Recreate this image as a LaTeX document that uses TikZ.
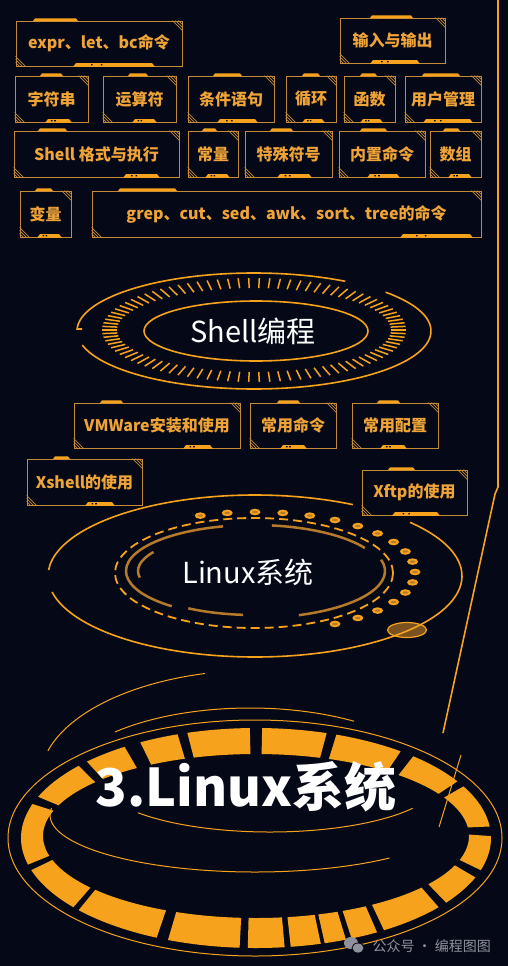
\documentclass[tikz,border=0pt]{standalone}
\usepackage{fontspec}
\setmainfont{Noto Sans CJK SC}
\usetikzlibrary{calc}
\definecolor{night}{HTML}{050917}
\definecolor{amber}{HTML}{F7A21D}
\definecolor{amberline}{HTML}{C48A35}
\definecolor{ambertext}{HTML}{F0A437}
\definecolor{amberdim}{HTML}{B57A2A}
\definecolor{amberfill}{HTML}{7A5220}
\definecolor{markgray}{HTML}{8F929C}
\tikzset{
  tag/.style={draw=amberline,line width=.9pt,inner sep=0pt,text=ambertext,font=\bfseries\fontsize{16}{16}\selectfont},
  ring/.style={draw=amber,line width=1.6pt},
  hair/.style={draw=amber,line width=1pt},
}

\begin{document}
\begin{tikzpicture}[x=1pt,y=-1pt]
\fill[night] (0,0) rectangle (508,966);
\useasboundingbox (0,0) rectangle (508,966);

% frame line on the right
\draw[ring] (498,0) -- (498,487) -- (495,494) -- (443,733);

% topic tags
\node[tag,minimum width=166pt,minimum height=45pt] (expr) at (99,43.5) {expr、let、bc命令};
\node[tag,minimum width=105pt,minimum height=45pt] (io) at (392.5,40.5) {输入与输出};
\node[tag,minimum width=73pt,minimum height=46pt] (str) at (51.5,99) {字符串};
\node[tag,minimum width=73pt,minimum height=46pt] (oper) at (139.5,99) {运算符};
\node[tag,minimum width=86pt,minimum height=46pt] (cond) at (231,99) {条件语句};
\node[tag,minimum width=50pt,minimum height=46pt] (loop) at (311,99) {循环};
\node[tag,minimum width=51pt,minimum height=46pt] (func) at (369.5,99) {函数};
\node[tag,minimum width=76pt,minimum height=46pt] (user) at (443,99) {用户管理};
\node[tag,minimum width=165pt,minimum height=46pt] (fmt) at (96.5,154) {Shell 格式与执行};
\node[tag,minimum width=50pt,minimum height=46pt] (const) at (213,154) {常量};
\node[tag,minimum width=87pt,minimum height=46pt] (spec) at (288.5,154) {特殊符号};
\node[tag,minimum width=86pt,minimum height=46pt] (builtin) at (382,154) {内置命令};
\node[tag,minimum width=51pt,minimum height=46pt] (array) at (455.5,154) {数组};
\node[tag,minimum width=51pt,minimum height=46pt] (var) at (45.5,214) {变量};
\node[tag,minimum width=389pt,minimum height=46pt] (grep) at (286.5,214) {grep、cut、sed、awk、sort、tree的命令};
\node[tag,minimum width=166pt,minimum height=45pt] (vmw) at (157,425.5) {VMWare安装和使用};
\node[tag,minimum width=86pt,minimum height=45pt] (cmd) at (293,425.5) {常用命令};
\node[tag,minimum width=86pt,minimum height=45pt] (conf) at (395,425.5) {常用配置};
\node[tag,minimum width=115pt,minimum height=46pt] (xshell) at (84.5,482) {Xshell的使用};
\node[tag,minimum width=105pt,minimum height=45pt] (xftp) at (414.5,492.5) {Xftp的使用};

% tag trim: top tab, bottom tab with two dots, hatched corners
\foreach \b/\ta/\tb/\ba/\bb in {expr/33/78/73/155,io/370/413/370/420,str/40/63/45/72,oper/128/148/132/157,
  cond/213/242/217/258,loop/302/320/302/325,func/360/377/360/383,user/422/460/423/473,fmt/38/67/123/160,
  const/202/217/205/230,spec/270/293/277/312,builtin/360/387/367/400,array/443/460/448/472,var/35/53/37/62,
  grep/118/177/400/473,vmw/100/123/183/213,cmd/277/300/280/307,conf/377/400/380/407,xshell/53/70/85/115,
  xftp/388/415/392/440}{
  \fill[amber] let \p1=(\b.north) in (\ta pt,{\y1-.5pt}) -- ({\ta pt+2pt},{\y1+2.2pt}) -- ({\tb pt-2pt},{\y1+2.2pt}) -- (\tb pt,{\y1-.5pt}) -- cycle;
  \fill[amber] let \p1=(\b.south) in (\ba pt,{\y1-.5pt}) -- ({\ba pt+3pt},{\y1+3.4pt}) -- ({\bb pt-3pt},{\y1+3.4pt}) -- (\bb pt,{\y1-.5pt}) -- cycle;
  \fill[night] let \p1=(\b.south) in ({(\ba+.22*(\bb-\ba))*1pt},{\y1+1pt}) rectangle ++(1.6pt,1.3pt)
    ({(\ba+.34*(\bb-\ba))*1pt},{\y1+1pt}) rectangle ++(1.6pt,1.3pt);
  \draw[amberline,line width=.6pt] let \p1=(\b.north east) in ({\x1-4pt},\y1) -- (\x1,{\y1-4pt})
    ({\x1-7pt},\y1) -- (\x1,{\y1-7pt}) ({\x1-10pt},\y1) -- (\x1,{\y1-10pt});
  \draw[amberline,line width=.6pt] let \p1=(\b.south west) in ({\x1+4pt},\y1) -- (\x1,{\y1+4pt})
    ({\x1+7pt},\y1) -- (\x1,{\y1+7pt}) ({\x1+10pt},\y1) -- (\x1,{\y1+10pt});
}

% Shell ring
\foreach \t in {0,4,...,356}
  \draw[amber,line width=1.5pt] ({254+137*cos(\t)},{330+42*sin(\t)}) -- ({254+152*cos(\t)},{330+52*sin(\t)});
\draw[ring] (256,331) ellipse[x radius=112,y radius=30];
\draw[ring] ({254+177*cos(-42)},{331+58*sin(-42)}) arc[start angle=-42,end angle=166,x radius=177,y radius=58];
\draw[ring] ({254+177*cos(182)+5},{331+58*sin(182)}) -- ({254+177*cos(182)},{331+58*sin(182)})
  arc[start angle=182,end angle=301,x radius=177,y radius=58];
\node[text=white,font=\fontsize{29}{29}\selectfont] (shell) at (253,331) {Shell编程};

% Linux ring
\filldraw[fill=amberfill,draw=amber,line width=1.2pt] (407,630) ellipse[x radius=19.5,y radius=7.5];
\draw[ring] ({255+207*cos(-41.5)},{576+81*sin(-41.5)}) arc[start angle=-41.5,end angle=168.6,x radius=207,y radius=81];
\draw[ring] ({255+207*cos(184.2)},{576+81*sin(184.2)}) arc[start angle=184.2,end angle=298.2,x radius=207,y radius=81];
\foreach \t in {-110,-100,...,60}{
  \fill[amber] ({255+160*cos(\t)},{572+60*sin(\t)}) ellipse[x radius=5.5,y radius=3.3];
  \fill[amberdim] ({255+160*cos(\t)},{572+60*sin(\t)}) ellipse[x radius=2.8,y radius=1.2];
}
\draw[amber,line width=1.8pt,dash pattern=on 9pt off 5pt] (254,573) ellipse[x radius=139,y radius=55];
\begin{scope}[amberdim,line width=2.5pt]
\draw ({254+128*cos(130)},{571+46*sin(130)}) arc[start angle=130,end angle=256,x radius=128,y radius=46];
\draw ({254+128*cos(-82)},{571+46*sin(-82)}) arc[start angle=-82,end angle=-30,x radius=128,y radius=46];
\draw ({254+131*cos(-14)},{571+47*sin(-14)}) arc[start angle=-14,end angle=70,x radius=131,y radius=47];
\draw ({254+124*cos(95)},{571+44*sin(95)}) arc[start angle=95,end angle=122,x radius=124,y radius=44];
\draw ({254+116*cos(170)},{571+38*sin(170)}) arc[start angle=170,end angle=210,x radius=116,y radius=38];
\end{scope}
\node[text=white,font=\fontsize{29}{29}\selectfont] (linux) at (248,572) {Linux系统};

% title ring
\draw[hair] (255,838) ellipse[x radius=247,y radius=118];
\draw[hair] ({260+220*cos(-164.6)},{780+110*sin(-164.6)}) arc[start angle=-164.6,end angle=-104.5,x radius=220,y radius=110];
\draw[hair] ({250+191*cos(-135)},{790+82*sin(-135)}) arc[start angle=-135,end angle=-57,x radius=191,y radius=82];
\draw[hair] ({255+205*cos(49)},{815+57*sin(49)}) arc[start angle=49,end angle=187,x radius=205,y radius=57];
\draw[hair] ({270+170*cos(33)},{780+52*sin(33)}) arc[start angle=33,end angle=141,x radius=170,y radius=52];
\draw[hair] (461,755) -- (439,827);
\foreach \a/\c in {-158/-139,-136/-124,-119.5/-109.5,-107/-91.5,-88.5/-72.5,-70/-52,-48/-31,-28/-6,-1/17,
  21/36,39/57,59/66,67.5/73,74/81.5,83/92,94/112,115/139,141/163,166/198}
  \fill[amber] ({256+235*cos(\a)},{838+110*sin(\a)}) arc[start angle=\a,end angle=\c,x radius=235,y radius=110]
    -- ({256+213*cos(\c)},{836+82*sin(\c)}) arc[start angle=\c,end angle=\a,x radius=213,y radius=82] -- cycle;
\node[text=white,font=\bfseries\fontsize{52}{52}\selectfont] (title) at (246,787) {3.Linux系统};

% watermark
\fill[markgray] (351,943) ellipse[x radius=7,y radius=6];
\filldraw[fill=markgray,draw=night,line width=.8pt] (358,948) ellipse[x radius=6,y radius=5];
\node[text=markgray,font=\fontsize{14}{14}\selectfont,anchor=west] (mark) at (369,946) {公众号 · 编程图图};
\end{tikzpicture}
\end{document}
